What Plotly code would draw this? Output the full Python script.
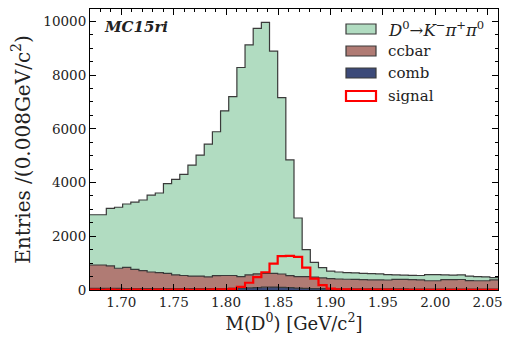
import numpy as np
import plotly.graph_objects as go

# ---- binning ----
x_min, x_max, n_bins = 1.67, 2.06, 50
edges = np.linspace(x_min, x_max, n_bins + 1)

# ---- data (entries per bin) ----
comb = [60, 60, 58, 57, 56, 55, 54, 53, 52, 51, 50, 50, 49, 48, 48, 50, 55,
        62, 70, 80, 92, 105, 110, 100, 85, 70, 60, 52, 48,
        45, 44, 43, 42, 42, 41, 40, 40, 39, 39, 38, 38, 37, 37, 36, 36, 35, 35, 34, 34, 33]
ccbar = [870, 870, 842, 753, 789, 715, 666, 617, 593, 569, 510, 490, 471, 472, 442, 485, 485,
         478, 430, 480, 508, 515, 510, 495, 450, 430, 435, 428, 402,
         375, 366, 357, 353, 343, 339, 335, 332, 356, 356, 347, 342, 308, 308, 349, 349, 355, 315, 311, 311, 347]
dkpp = [1870, 1870, 2140, 2270, 2355, 2500, 2630, 2860, 2965, 3340, 3560, 3760, 4130, 4500, 4940, 5355, 6130,
        6660, 7780, 8560, 9140, 9340, 8270, 6565, 4305, 2180, 1005, 550, 380,
        280, 260, 250, 245, 235, 230, 225, 198, 165, 155, 160, 160, 225, 230, 175, 170, 170, 170, 155, 145, 80]
signal = [15, 10, 12, 8, 10, 12, 10, 8, 15, 10, 12, 15, 10, 12, 15, 20, 25,
          40, 120, 270, 480, 660, 980, 1260, 1270, 1230, 830, 420, 180,
          50, 25, 20, 18, 15, 15, 12, 12, 10, 10, 10, 8, 10, 8, 8, 10, 6, 8, 6, 5, 5]

legend_labels = ["<i>D</i><sup>0</sup>→<i>K</i><sup>−</sup><i>π</i><sup>+</sup><i>π</i><sup>0</sup>",
                 "ccbar", "comb", "signal"]

col_green = "#b1dcc1"
col_brown = "#b07b74"
col_navy = "#3c4a79"
col_edge = "#3a3a3a"
col_red = "#ff0000"
FONT = "DejaVu Serif"

def step(vals):
    v = list(vals) + [vals[-1]]
    return list(edges), v

lvl1 = np.array(comb, dtype=float)
lvl2 = lvl1 + np.array(ccbar, dtype=float)
lvl3 = lvl2 + np.array(dkpp, dtype=float)

fig = go.Figure()
x, y = step(lvl1)
fig.add_trace(go.Scatter(x=x, y=y, mode="lines", line=dict(shape="hv", color=col_edge, width=1.2),
                         fill="tozeroy", fillcolor=col_navy, showlegend=False, hoverinfo="skip"))
x, y = step(lvl2)
fig.add_trace(go.Scatter(x=x, y=y, mode="lines", line=dict(shape="hv", color=col_edge, width=1.2),
                         fill="tonexty", fillcolor=col_brown, showlegend=False, hoverinfo="skip"))
x, y = step(lvl3)
fig.add_trace(go.Scatter(x=x, y=y, mode="lines", line=dict(shape="hv", color=col_edge, width=1.2),
                         fill="tonexty", fillcolor=col_green, showlegend=False, hoverinfo="skip"))
x, y = step(signal)
fig.add_trace(go.Scatter(x=x, y=y, mode="lines", line=dict(shape="hv", color=col_red, width=2.2),
                         showlegend=False, hoverinfo="skip"))

W, H = 505, 338
L, R, T, B = 90, 498, 9, 290

def px(xs):
    return (xs - L) / (R - L)
def py(ys):
    return (B - ys) / (B - T)

shapes = []
annotations = []
box_fill = [col_green, col_brown, col_navy, "white"]
box_line = [col_edge, col_edge, col_edge, col_red]
box_lw = [1.2, 1.2, 1.2, 2.2]
label_size = [16.5, 15, 15, 15]
rows = [29, 51, 73, 96]
for i, lab in enumerate(legend_labels):
    yc = rows[i]
    shapes.append(dict(type="rect", xref="paper", yref="paper",
                       x0=px(346), x1=px(376), y0=py(yc + 5), y1=py(yc - 5),
                       fillcolor=box_fill[i], line=dict(color=box_line[i], width=box_lw[i])))
    annotations.append(dict(xref="paper", yref="paper", x=px(386), y=py(yc), xanchor="left", yanchor="middle",
                            text=lab, showarrow=False, font=dict(family=FONT, size=label_size[i], color="#222")))

annotations.append(dict(xref="paper", yref="paper", x=px(102), y=py(27), xanchor="left", yanchor="middle",
                        text="<b><i>MC15ri</i></b>", showarrow=False,
                        font=dict(family=FONT, size=15, color="#222")))

axis_common = dict(showline=True, linecolor="black", linewidth=1, mirror="allticks",
                   ticks="inside", tickcolor="black", tickwidth=1, ticklen=6,
                   showgrid=False, zeroline=False,
                   tickfont=dict(family=FONT, size=13.5, color="#222"))

fig.update_layout(
    width=W, height=H,
    margin=dict(l=L, r=W - R, t=T, b=H - B, autoexpand=False),
    paper_bgcolor="white", plot_bgcolor="white",
    hovermode=False,
    shapes=shapes, annotations=annotations,
    xaxis=dict(range=[x_min, x_max], tick0=1.70, dtick=0.05, tickformat=".2f",
               minor=dict(ticks="inside", ticklen=3, dtick=0.01, tick0=1.70, tickcolor="black"),
               title=dict(text="M(D<sup>0</sup>) [GeV/c<sup>2</sup>]", font=dict(family=FONT, size=18, color="#222"),
                          standoff=3),
               **axis_common),
    yaxis=dict(range=[0, 10458], tick0=0, dtick=2000, tickformat="d",
               minor=dict(ticks="inside", ticklen=3, dtick=500, tick0=0, tickcolor="black"),
               title=dict(text="Entries /(0.008GeV/c<sup>2</sup>)", font=dict(family=FONT, size=20, color="#222"),
                          standoff=7),
               **axis_common),
)

fig.write_html(
    "out.html",
    config={"displayModeBar": False, "staticPlot": True},
    post_script="document.documentElement.style.margin='0';document.body.style.margin='0';"
                "document.documentElement.style.overflow='hidden';document.body.style.overflow='hidden';",
)
